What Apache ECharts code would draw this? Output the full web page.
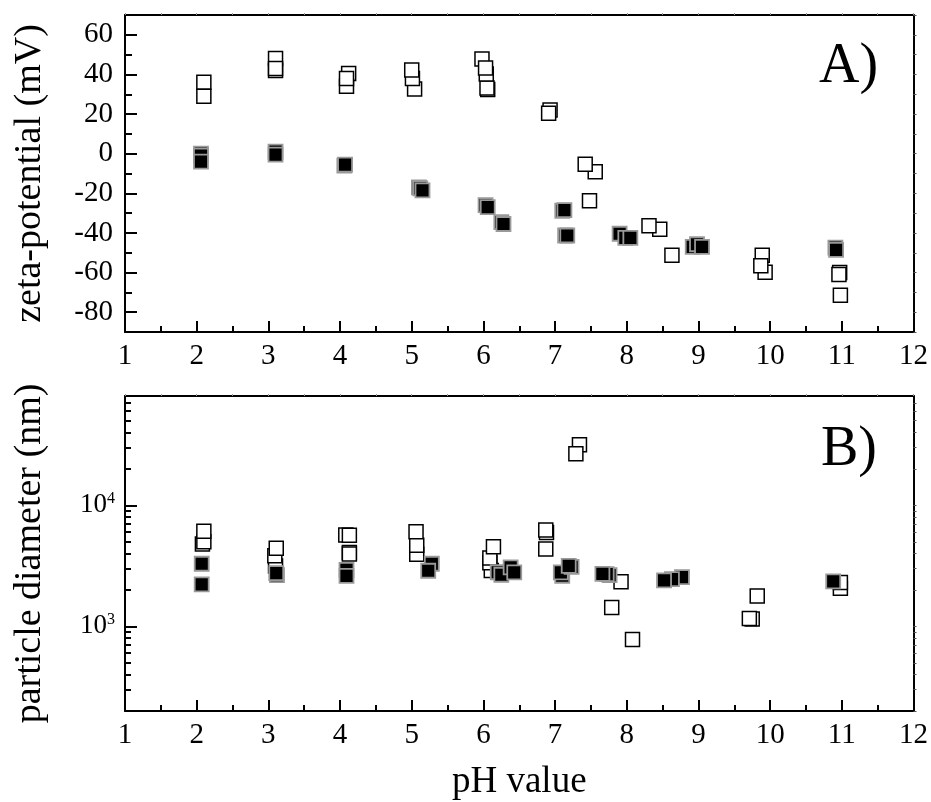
<!DOCTYPE html>
<html>
<head>
<meta charset="utf-8">
<script src="https://cdn.jsdelivr.net/npm/echarts@6/dist/echarts.min.js"></script>
<style>
  html, body { margin: 0; padding: 0; background: #fff; }
  #chart { width: 931px; height: 802px; }
</style>
</head>
<body>
<div id="chart"></div>
<script>
// panel A: zeta-potential vs pH  [pH, mV]
const zetaFilled = [
  [2.06, 0], [2.06, -1], [2.06, -4],
  [3.10, 1], [3.10, -0.5],
  [4.06, -6], [4.07, -5.5],
  [5.10, -17], [5.12, -17.5], [5.15, -18.5],
  [6.03, -26], [6.06, -27], [6.25, -34.5], [6.28, -35.5],
  [7.10, -28.8], [7.13, -28.5], [7.14, -41.3], [7.17, -41.3],
  [7.90, -40.4], [7.98, -42.5], [8.05, -42.5],
  [8.92, -47], [8.98, -45.7], [9.05, -47],
  [10.91, -47.4], [10.92, -48.5]
]
const zetaOpen = [
  [2.10, 36], [2.10, 29],
  [3.10, 42], [3.10, 48], [3.10, 43],
  [4.12, 40.5], [4.09, 34], [4.09, 38],
  [5.04, 32.6], [5.01, 38], [5.00, 42.3],
  [6.06, 32.4], [6.05, 33.2], [6.04, 40.2], [5.98, 47.8], [6.03, 43.2],
  [6.93, 22], [6.91, 20.4],
  [7.56, -9.1], [7.42, -5.3], [7.48, -23.8],
  [8.46, -38.1], [8.31, -36.4], [8.63, -51.2],
  [9.93, -59.8], [9.89, -51.3], [9.87, -56.6],
  [10.97, -60], [10.96, -61], [10.98, -71.4]
]

// panel B: particle diameter vs pH  [pH, nm]
const sizeFilled = [
  [2.07, 3290], [2.07, 2220],
  [3.12, 2650], [3.11, 2750],
  [4.09, 2930], [4.09, 2610],
  [5.28, 3290], [5.23, 2880],
  [6.20, 2800], [6.25, 2670], [6.38, 3070], [6.43, 2790],
  [7.10, 2620], [7.08, 2790], [7.23, 3100], [7.19, 3160],
  [7.76, 2650], [7.72, 2700], [7.66, 2710],
  [8.77, 2550], [8.63, 2460], [8.52, 2400],
  [10.88, 2350]
]
const sizeOpen = [
  [2.08, 4790], [2.10, 4990], [2.10, 6100],
  [3.10, 3160], [3.09, 3830], [3.11, 4430],
  [4.08, 5700], [4.13, 5660], [4.13, 4070], [4.13, 3970],
  [5.07, 3950], [5.07, 4670], [5.06, 6040],
  [6.11, 2890], [6.09, 3350], [6.09, 3680], [6.14, 4540],
  [6.87, 4350], [6.88, 5950], [6.87, 6240],
  [7.34, 31600], [7.29, 26700],
  [7.79, 1430], [7.92, 2340], [8.08, 778],
  [9.82, 1780], [9.75, 1150], [9.71, 1160],
  [10.98, 2070], [10.98, 2300]
]

// axis ticks
const zetaMajorTicks = [-80, -60, -40, -20, 0, 20, 40, 60]
const sizeMinorTicks = [300, 400, 500, 600, 700, 800, 900,
  2000, 3000, 4000, 5000, 6000, 7000, 8000, 9000,
  20000, 30000, 40000, 50000, 60000, 70000]
const sizeAllTicks = [200, ...sizeMinorTicks, 1000, 10000]

const font = 'Liberation Serif'
const black = '#000'

const chart = echarts.init(document.getElementById('chart'))

const lineStyle = { color: black, width: 2 }

const bottomX = (grid, name) => ({
  type: 'value',
  gridIndex: grid,
  position: 'bottom',
  min: 1,
  max: 12,
  interval: 1,
  name: name,
  nameLocation: 'middle',
  nameGap: 53,
  nameTextStyle: { fontFamily: font, fontSize: 37, color: black },
  axisLine: { show: true, onZero: false, lineStyle },
  axisTick: { show: true, inside: true, length: 11, lineStyle: { color: black, width: 2 } },
  minorTick: { show: true, splitNumber: 2, length: 6, lineStyle: { color: black, width: 2 } },
  axisLabel: { fontFamily: font, fontSize: 29, color: black, margin: 10 },
  splitLine: { show: false }
})

const topX = (grid) => ({
  type: 'value',
  gridIndex: grid,
  position: 'top',
  min: 1,
  max: 12,
  interval: 1,
  axisLine: { show: true, onZero: false, lineStyle },
  axisTick: { show: true, inside: false, length: 2, lineStyle: { color: '#999', width: 1 } },
  minorTick: { show: true, splitNumber: 2, length: 2, lineStyle: { color: '#999', width: 1 } },
  axisLabel: { show: false },
  splitLine: { show: false }
})

const option = {
  backgroundColor: '#fff',
  animation: false,
  grid: [
    { left: 125, top: 15, width: 789, height: 317 },
    { left: 125, top: 396, width: 789, height: 317 }
  ],
  graphic: [
    { type: 'text', left: 819, top: 39, style: { text: 'A)', font: '56px "Liberation Serif"', fill: black } },
    { type: 'text', left: 821, top: 422, style: { text: 'B)', font: '56px "Liberation Serif"', fill: black } }
  ],
  xAxis: [bottomX(0, ''), topX(0), bottomX(1, 'pH value'), topX(1)],
  yAxis: [
    {
      type: 'value',
      gridIndex: 0,
      position: 'left',
      min: -90,
      max: 70,
      interval: 10,
      name: 'zeta-potential (mV)',
      nameLocation: 'middle',
      nameRotate: 90,
      nameGap: 76,
      nameTextStyle: { fontFamily: font, fontSize: 38, color: black },
      axisLine: { show: true, onZero: false, lineStyle },
      axisTick: { show: true, inside: true, length: 7, lineStyle: { color: black, width: 2 } },
      axisLabel: {
        fontFamily: font, fontSize: 29, color: black, margin: 12,
        formatter: (v) => (v % 20 === 0 ? String(v) : '')
      },
      splitLine: { show: false }
    },
    {
      type: 'value',
      gridIndex: 0,
      position: 'left',
      min: -90,
      max: 70,
      interval: 10,
      axisLine: { show: false },
      axisTick: { show: true, inside: true, length: 12, customValues: zetaMajorTicks, lineStyle: { color: black, width: 2 } },
      axisLabel: { show: false },
      splitLine: { show: false }
    },
    {
      type: 'value',
      gridIndex: 0,
      position: 'right',
      min: -90,
      max: 70,
      interval: 10,
      axisLine: { show: true, onZero: false, lineStyle },
      axisTick: { show: true, inside: false, length: 3, lineStyle: { color: '#555', width: 1 } },
      axisLabel: { show: false },
      splitLine: { show: false }
    },
    {
      type: 'log',
      logBase: 10,
      gridIndex: 1,
      position: 'left',
      min: 200,
      max: 80000,
      name: 'particle diameter (nm)',
      nameLocation: 'middle',
      nameRotate: 90,
      nameGap: 76,
      nameTextStyle: { fontFamily: font, fontSize: 38, color: black },
      axisLine: { show: true, onZero: false, lineStyle },
      axisTick: { show: true, inside: true, length: 12, customValues: [1000, 10000], lineStyle: { color: black, width: 2 } },
      axisLabel: {
        customValues: [1000, 10000],
        margin: 10,
        formatter: (v) => '{b|10}{s|' + Math.round(Math.log10(v)) + '}',
        rich: {
          b: { fontFamily: font, fontSize: 27, color: black },
          s: { fontFamily: font, fontSize: 16, color: black, padding: [0, 0, 14, 0] }
        }
      },
      splitLine: { show: false }
    },
    {
      type: 'log',
      logBase: 10,
      gridIndex: 1,
      position: 'left',
      min: 200,
      max: 80000,
      axisLine: { show: false },
      axisTick: { show: true, inside: true, length: 6, customValues: sizeMinorTicks, lineStyle: { color: black, width: 2 } },
      axisLabel: { show: false },
      splitLine: { show: false }
    },
    {
      type: 'log',
      logBase: 10,
      gridIndex: 1,
      position: 'right',
      min: 200,
      max: 80000,
      axisLine: { show: true, onZero: false, lineStyle },
      axisTick: { show: true, inside: false, length: 3, customValues: sizeAllTicks, lineStyle: { color: '#555', width: 1 } },
      axisLabel: { show: false },
      splitLine: { show: false }
    }
  ],
  series: [
    {
      name: 'zeta filled',
      type: 'scatter',
      xAxisIndex: 0,
      yAxisIndex: 0,
      symbol: 'rect',
      symbolSize: 14,
      data: zetaFilled,
      itemStyle: { color: black, borderColor: '#999', borderWidth: 1.8, opacity: 1 }
    },
    {
      name: 'zeta open',
      type: 'scatter',
      xAxisIndex: 0,
      yAxisIndex: 0,
      symbol: 'rect',
      symbolSize: 14,
      data: zetaOpen,
      itemStyle: { color: '#fff', borderColor: black, borderWidth: 1.5, opacity: 1 }
    },
    {
      name: 'size open',
      type: 'scatter',
      xAxisIndex: 2,
      yAxisIndex: 3,
      symbol: 'rect',
      symbolSize: 14,
      data: sizeOpen,
      itemStyle: { color: '#fff', borderColor: black, borderWidth: 1.5, opacity: 1 }
    },
    {
      name: 'size filled',
      type: 'scatter',
      xAxisIndex: 2,
      yAxisIndex: 3,
      symbol: 'rect',
      symbolSize: 14,
      data: sizeFilled,
      itemStyle: { color: black, borderColor: '#999', borderWidth: 1.8, opacity: 1 }
    }
  ]
}

chart.setOption(option)
window.addEventListener('resize', () => chart.resize())
</script>
</body>
</html>
